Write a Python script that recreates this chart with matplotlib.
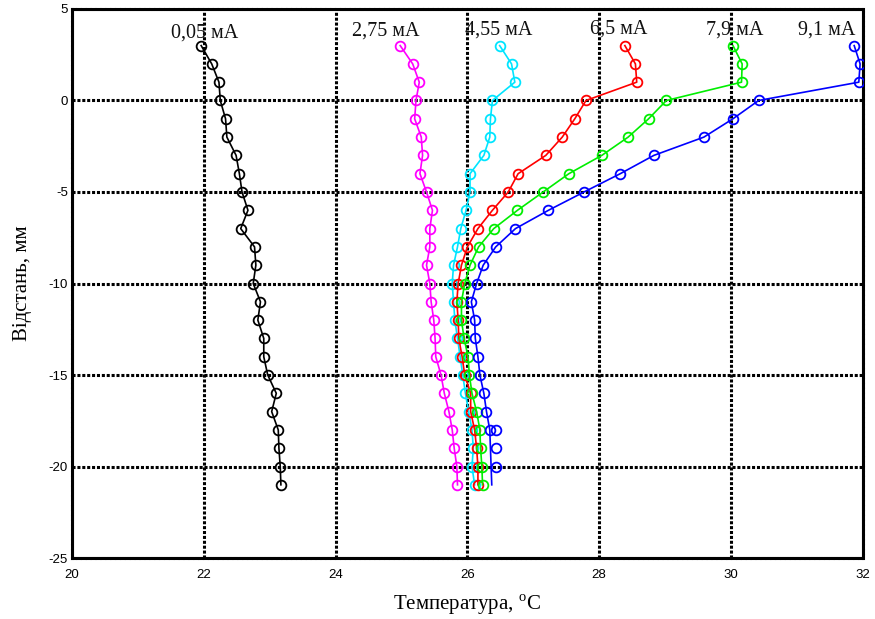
import matplotlib
matplotlib.use("Agg")
import matplotlib.pyplot as plt
import numpy as np

# Distances (mm), 3 down to -21
depth = [3, 2, 1, 0, -1, -2, -3, -4, -5, -6, -7, -8, -9, -10, -11, -12,
         -13, -14, -15, -16, -17, -18, -19, -20, -21]

t_005 = [21.96, 22.12, 22.23, 22.25, 22.33, 22.35, 22.49, 22.54, 22.58, 22.67,
         22.56, 22.77, 22.79, 22.75, 22.86, 22.82, 22.91, 22.91, 22.97, 23.10,
         23.03, 23.13, 23.14, 23.16, 23.17]
t_275 = [24.98, 25.17, 25.27, 25.22, 25.20, 25.30, 25.32, 25.28, 25.38, 25.47,
         25.43, 25.43, 25.38, 25.43, 25.45, 25.49, 25.51, 25.52, 25.60, 25.65,
         25.72, 25.77, 25.80, 25.84, 25.85]
t_455 = [26.49, 26.67, 26.72, 26.38, 26.35, 26.34, 26.25, 26.04, 26.04, 25.98,
         25.90, 25.85, 25.79, 25.77, 25.79, 25.81, 25.85, 25.89, 25.93, 25.97,
         26.02, 26.07, 26.09, 26.07, 26.11]
t_65 = [28.39, 28.55, 28.57, 27.80, 27.63, 27.44, 27.19, 26.77, 26.62, 26.38,
        26.16, 26.00, 25.91, 25.86, 25.84, 25.86, 25.87, 25.92, 25.96, 26.05,
        26.05, 26.11, 26.14, 26.16, 26.16]
t_79 = [30.03, 30.17, 30.16, 29.02, 28.75, 28.44, 28.04, 27.54, 27.15, 26.76,
        26.40, 26.17, 26.04, 25.96, 25.91, 25.91, 25.95, 26.01, 26.03, 26.07,
        26.14, 26.19, 26.20, 26.22, 26.23]
t_91 = [31.87, 31.96, 31.94, 30.42, 30.03, 29.59, 28.83, 28.32, 27.77, 27.23,
        26.73, 26.43, 26.24, 26.14, 26.06, 26.11, 26.12, 26.16, 26.19, 26.25,
        26.29, 26.34, 26.35, 26.36, 26.37]
# extra blue markers off the line
t_91_extra = [26.44, 26.43, 26.44]
depth_91_extra = [-18, -19, -20]

series_labels = ["0,05 мА", "2,75 мА", "4,55 мА", "6,5 мА", "7,9 мА", "9,1 мА"]
label_x = [22.02, 24.76, 26.47, 28.30, 30.05, 31.46]
label_y = [3.45, 3.55, 3.6, 3.65, 3.6, 3.6]

colors = ["black", "#ff00ff", "#00e5ff", "#ff0000", "#00ee00", "#0000ff"]
all_series = [t_005, t_275, t_455, t_65, t_79, t_91]

plt.rcParams['mathtext.fontset'] = 'custom'
plt.rcParams['mathtext.rm'] = 'Liberation Serif'

fig = plt.figure(figsize=(8.75, 6.19), dpi=100)
ax = fig.add_axes([0.0823, 0.0985, 0.9037, 0.887])

for i, (vals, c) in enumerate(zip(all_series, colors)):
    if i == 5:
        ax.plot(vals, depth, color=c, lw=1.2, marker='o', mfc='none', mec=c,
                ms=7, mew=1.3, markevery=list(range(22)), zorder=3)
        ax.plot(t_91_extra, depth_91_extra, ls='none', marker='o', mfc='none',
                mec=c, ms=7, mew=1.3, zorder=3)
    else:
        ax.plot(vals, depth, color=c, lw=1.2, marker='o', mfc='none', mec=c,
                ms=7, mew=1.3, zorder=3)

for lab, lx, ly in zip(series_labels, label_x, label_y):
    ax.text(lx, ly, lab, ha='center', va='baseline', fontsize=14.5,
            family='Liberation Serif', color='#111111')

ax.set_xlim(20, 32)
ax.set_ylim(-25, 5)
ax.set_xticks(np.arange(20, 33, 2))
ax.set_yticks(np.arange(-25, 6, 5))
ax.set_xticklabels([str(v) for v in range(20, 33, 2)])
ax.set_yticklabels([str(v) for v in range(-25, 6, 5)])
for lbl in ax.get_xticklabels() + ax.get_yticklabels():
    lbl.set_family('Liberation Sans')
    lbl.set_fontsize(9.5)
ax.tick_params(axis='y', length=0, pad=3)
ax.tick_params(axis='x', length=0, pad=8)

ax.grid(True, color='black', linestyle=(0, (1, 0.6)), linewidth=2.2, zorder=1)
ax.set_axisbelow(True)
for s in ax.spines.values():
    s.set_linestyle((0, (1, 0.6)))
    s.set_linewidth(2.2)

ax.set_xlabel("Температура, $^{\\rm o}$C", family='Liberation Serif',
              fontsize=15, labelpad=8)
ax.set_ylabel("Відстань, мм", family='Liberation Serif', fontsize=15,
              labelpad=12)

fig.savefig("out.png", dpi=100)
